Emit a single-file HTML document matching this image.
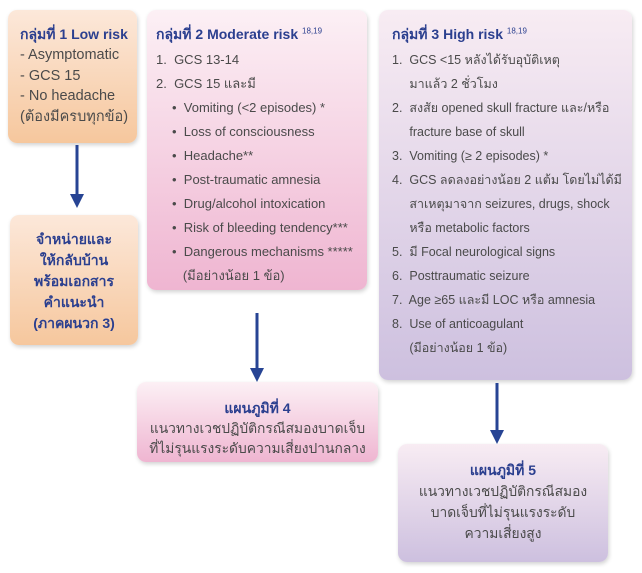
<!DOCTYPE html>
<html><head><meta charset="utf-8"><style>
body{margin:0;width:642px;height:573px;background:#fff;position:relative;overflow:hidden;font-family:"Liberation Sans","DejaVu Sans",sans-serif;color:#4a4a4a;font-size:13px}
.b{position:absolute;border-radius:9px;box-shadow:1px 2px 4px rgba(0,0,0,.18);box-sizing:border-box}
.o{background:linear-gradient(#fce8da,#f6c79d)}
.p{background:linear-gradient(#fcf0f5,#efb5d1)}
.l{background:linear-gradient(#f8ecf3,#cdc0df)}
.t{color:#2b3f8f;font-weight:bold;font-size:14px}
sup{font-size:8px;font-weight:normal}
.ln{position:absolute;white-space:nowrap}
.c{text-align:center;position:absolute;left:0;right:0}
</style></head><body>
<div class="b o" style="left:8px;top:10px;width:129px;height:133px"></div>
<div class="ln t" style="left:20px;top:24px">กลุ่มที่ 1 Low risk</div>
<div class="ln" style="left:20px;top:45px;font-size:14.5px;line-height:20.5px">- Asymptomatic<br>- GCS 15<br>- No headache<br>(ต้องมีครบทุกข้อ)</div>

<div class="b p" style="left:147px;top:10px;width:220px;height:280px"></div>
<div class="ln t" style="left:156px;top:24px">กลุ่มที่ 2 Moderate risk <sup>18,19</sup></div>
<div class="ln" style="left:156px;top:48px;line-height:24px">1.&nbsp; GCS 13-14<br>2.&nbsp; GCS 15 และมี</div>
<div class="ln" style="left:172px;top:96px;line-height:24px">•&nbsp; Vomiting (&lt;2 episodes) *<br>•&nbsp; Loss of consciousness<br>•&nbsp; Headache**<br>•&nbsp; Post-traumatic amnesia<br>•&nbsp; Drug/alcohol intoxication<br>•&nbsp; Risk of bleeding tendency***<br>•&nbsp; Dangerous mechanisms *****<br>&nbsp;&nbsp;&nbsp;(มีอย่างน้อย 1 ข้อ)</div>

<div class="b l" style="left:379px;top:10px;width:253px;height:370px"></div>
<div class="ln t" style="left:392px;top:24px">กลุ่มที่ 3 High risk <sup>18,19</sup></div>
<div class="ln" style="left:392px;top:48px;line-height:24px;font-size:12.5px">1.&nbsp; GCS &lt;15 หลังได้รับอุบัติเหตุ<br>&nbsp;&nbsp;&nbsp;&nbsp;&nbsp;มาแล้ว 2 ชั่วโมง<br>2.&nbsp; สงสัย opened skull fracture และ/หรือ<br>&nbsp;&nbsp;&nbsp;&nbsp;&nbsp;fracture base of skull<br>3.&nbsp; Vomiting (≥ 2 episodes) *<br>4.&nbsp; GCS ลดลงอย่างน้อย 2 แต้ม โดยไม่ได้มี<br>&nbsp;&nbsp;&nbsp;&nbsp;&nbsp;สาเหตุมาจาก seizures, drugs, shock<br>&nbsp;&nbsp;&nbsp;&nbsp;&nbsp;หรือ metabolic factors<br>5.&nbsp; มี Focal neurological signs<br>6.&nbsp; Posttraumatic seizure<br>7.&nbsp; Age ≥65 และมี  LOC หรือ amnesia<br>8.&nbsp; Use of anticoagulant<br>&nbsp;&nbsp;&nbsp;&nbsp;&nbsp;(มีอย่างน้อย 1 ข้อ)</div>

<div class="b o" style="left:10px;top:215px;width:128px;height:130px"><div class="c t" style="top:14px;line-height:21px">จำหน่ายและ<br>ให้กลับบ้าน<br>พร้อมเอกสาร<br>คำแนะนำ<br>(ภาคผนวก 3)</div></div>

<div class="b p" style="left:137px;top:382px;width:241px;height:80px"><div class="c" style="top:16px;line-height:20px;font-size:13.8px"><span class="t">แผนภูมิที่ 4</span><br>แนวทางเวชปฏิบัติกรณีสมองบาดเจ็บ<br>ที่ไม่รุนแรงระดับความเสี่ยงปานกลาง</div></div>

<div class="b l" style="left:398px;top:444px;width:210px;height:118px"><div class="c" style="top:16px;line-height:21px;font-size:13.8px"><span class="t">แผนภูมิที่ 5</span><br>แนวทางเวชปฏิบัติกรณีสมอง<br>บาดเจ็บที่ไม่รุนแรงระดับ<br>ความเสี่ยงสูง</div></div>

<svg width="642" height="573" style="position:absolute;left:0;top:0">
<g stroke="#274494" stroke-width="3" fill="#274494">
<line x1="77" y1="145" x2="77" y2="196"/><polygon points="70,194 84,194 77,208" stroke="none"/>
<line x1="257" y1="313" x2="257" y2="370"/><polygon points="250,368 264,368 257,382" stroke="none"/>
<line x1="497" y1="383" x2="497" y2="432"/><polygon points="490,430 504,430 497,444" stroke="none"/>
</g></svg>
</body></html>
